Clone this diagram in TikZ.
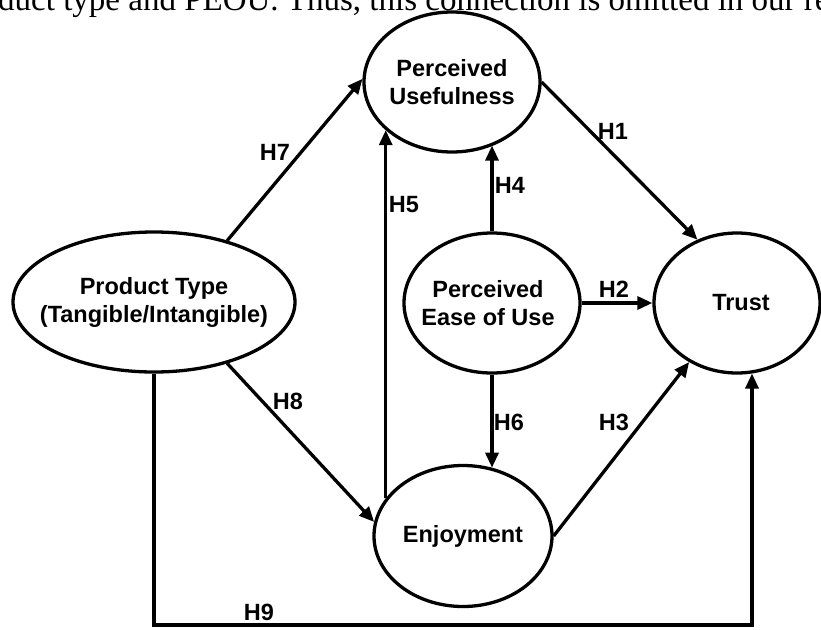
\documentclass[tikz,border=0pt]{standalone}
\usepackage{fontspec}
\setmainfont{Liberation Serif}
\newfontfamily\arialf{Liberation Sans}
\usetikzlibrary{arrows.meta,shapes.geometric}
\begin{document}
\begin{tikzpicture}[x=1pt,y=-1pt,
  ell/.style={draw, ellipse, line width=3.3pt, inner sep=0pt},
  lbl/.style={font=\arialf\bfseries\fontsize{23.5}{28}\selectfont, align=center, inner sep=0pt},
  arr/.style={line width=3.3pt, -{Triangle[length=15pt,width=13pt]}},
  ln/.style={line width=3.3pt}]
\useasboundingbox (0,0) rectangle (821,629);
\node[anchor=base west, inner sep=0pt, font=\fontsize{33}{33}\selectfont] (toptext) at (-2,10) {duct type and PEOU. Thus, this connection is omitted in our re};
% ellipses
\node[ell, minimum width=176pt, minimum height=140pt, label={[lbl]center:Perceived\\Usefulness}] (PU) at (452,82) {};
\node[ell, minimum width=176pt, minimum height=140pt, label={[lbl,xshift=-4pt]center:Perceived\\Ease of Use}] (PEOU) at (492,303) {};
\node[ell, minimum width=166pt, minimum height=140pt, label={[lbl,xshift=4pt]center:Trust}] (T) at (737,303) {};
\node[ell, minimum width=282pt, minimum height=140pt, label={[lbl]center:Product Type\\(Tangible/Intangible)}] (PT) at (154,302) {};
\node[ell, minimum width=178pt, minimum height=141pt, label={[lbl]center:Enjoyment}] (E) at (463,536) {};
\coordinate (bot) at (0,625);
% connectors
\draw[arr] (PU.east) -- (T.122.6);
\draw[arr] (PEOU.east) -- (T.west);
\draw[arr] (E.east) -- (T.231);
\draw[arr] (PEOU.north) -- (PEOU.north |- PU.-57);
\draw[arr] (E.154) -- (E.154 |- PU.216);
\draw[arr] (PEOU.south) -- (PEOU.south |- E.67);
\draw[arr] (PT.40) -- (PU.178);
\draw[arr] (PT.-40) -- (E.171.6);
\draw[arr] (PT.south) -- (PT.south |- bot) -| (T.-78);
% labels
\node[lbl] (h1) at (613,131) {H1};
\node[lbl] (h2) at (614,289) {H2};
\node[lbl] (h3) at (614,422) {H3};
\node[lbl] (h4) at (510,185) {H4};
\node[lbl] (h5) at (404,205) {H5};
\node[lbl] (h6) at (509,422) {H6};
\node[lbl] (h7) at (275,152) {H7};
\node[lbl] (h8) at (288,401) {H8};
\node[lbl] (h9) at (259,612) {H9};
\end{tikzpicture}
\end{document}
